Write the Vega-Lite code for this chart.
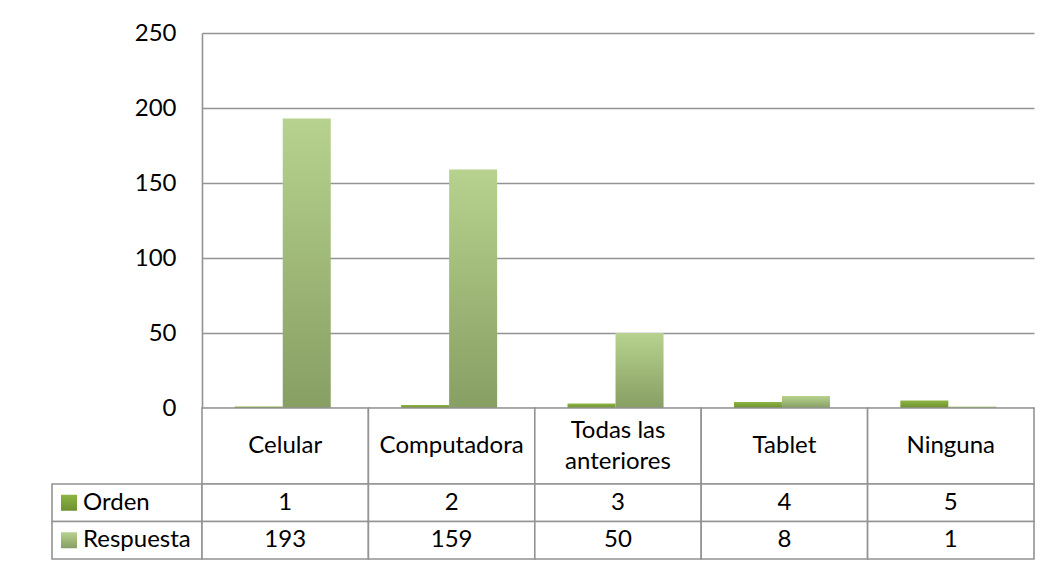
{
  "$schema": "https://vega.github.io/schema/vega-lite/v6.json",
  "padding": {"left": 51, "top": 21, "right": 0, "bottom": 0},
  "background": "white",
  "columns": 2,
  "spacing": 0,
  "bounds": "flush",
  "config": {
    "view": {"stroke": null},
    "font": "Lato",
    "text": {"font": "Lato", "fontSize": 24, "color": "#000000"}
  },
  "data": {
    "values": [
      {"categoria": "Celular", "etiqueta": "Celular", "Orden": 1, "Respuesta": 193},
      {"categoria": "Computadora", "etiqueta": "Computadora", "Orden": 2, "Respuesta": 159},
      {"categoria": "Todas las anteriores", "etiqueta": "Todas las\nanteriores", "Orden": 3, "Respuesta": 50},
      {"categoria": "Tablet", "etiqueta": "Tablet", "Orden": 4, "Respuesta": 8},
      {"categoria": "Ninguna", "etiqueta": "Ninguna", "Orden": 5, "Respuesta": 1}
    ]
  },
  "concat": [
    {
      "width": 150,
      "height": 375,
      "data": {"values": []},
      "mark": "point",
      "encoding": {}
    },
    {
      "width": 832,
      "height": 375,
      "transform": [{"fold": ["Orden", "Respuesta"], "as": ["serie", "valor"]}],
      "encoding": {
        "x": {
          "field": "categoria",
          "type": "nominal",
          "sort": null,
          "scale": {"paddingInner": 0.423, "paddingOuter": 0.2115, "align": 0.465},
          "axis": null
        },
        "xOffset": {
          "field": "serie",
          "type": "nominal",
          "scale": {"domain": ["Orden", "Respuesta"], "paddingInner": 0, "paddingOuter": 0}
        },
        "y": {
          "field": "valor",
          "type": "quantitative",
          "scale": {"domain": [0, 250], "nice": false},
          "axis": {
            "values": [0, 50, 100, 150, 200, 250],
            "grid": true,
            "gridColor": "#939393",
            "gridWidth": 1.6,
            "domainColor": "#939393",
            "domainWidth": 1.6,
            "ticks": false,
            "labelFont": "Lato",
            "labelFontSize": 24,
            "labelColor": "#000000",
            "labelPadding": 26,
            "title": null
          }
        }
      },
      "layer": [
        {
          "transform": [{"filter": "datum.serie === 'Orden'"}],
          "mark": {
            "type": "bar",
            "color": {
              "gradient": "linear", "x1": 0, "y1": 0, "x2": 0, "y2": 1,
              "stops": [{"offset": 0, "color": "#8db543"}, {"offset": 1, "color": "#6e9030"}]
            }
          }
        },
        {
          "transform": [{"filter": "datum.serie === 'Respuesta'"}],
          "mark": {
            "type": "bar",
            "color": {
              "gradient": "linear", "x1": 0, "y1": 0, "x2": 0, "y2": 1,
              "stops": [{"offset": 0, "color": "#b7d28e"}, {"offset": 1, "color": "#879f63"}]
            }
          }
        }
      ]
    },
    {
      "width": 150,
      "height": 76,
      "data": {"values": []},
      "mark": "point",
      "encoding": {}
    },
    {
      "width": 832,
      "height": 76,
      "encoding": {
        "x": {
          "field": "categoria",
          "type": "nominal",
          "sort": null,
          "scale": {"paddingInner": 0, "paddingOuter": 0},
          "axis": null
        }
      },
      "layer": [
        {"mark": {"type": "rect", "fill": "white", "stroke": "#939393", "strokeWidth": 1.6}},
        {
          "transform": [{"filter": "indexof(datum.etiqueta, '\\n') < 0"}],
          "mark": {"type": "text", "baseline": "middle", "align": "center"},
          "encoding": {"text": {"field": "etiqueta"}}
        },
        {
          "transform": [{"filter": "indexof(datum.etiqueta, '\\n') >= 0"}],
          "mark": {"type": "text", "lineBreak": "\n", "lineHeight": 31, "baseline": "middle", "align": "center", "dy": -15},
          "encoding": {"text": {"field": "etiqueta"}}
        }
      ]
    },
    {
      "width": 150,
      "height": 75,
      "data": {"values": [{"serie": "Orden"}, {"serie": "Respuesta"}]},
      "encoding": {
        "y": {
          "field": "serie",
          "type": "nominal",
          "sort": null,
          "scale": {"domain": ["Orden", "Respuesta"], "paddingInner": 0, "paddingOuter": 0},
          "axis": null
        }
      },
      "layer": [
        {"mark": {"type": "rect", "fill": "white", "stroke": "#939393", "strokeWidth": 1.6}},
        {
          "transform": [{"filter": "datum.serie === 'Orden'"}],
          "mark": {
            "type": "square", "size": 256, "opacity": 1, "filled": true,
            "fill": {
              "gradient": "linear", "x1": 0, "y1": 0, "x2": 0, "y2": 1,
              "stops": [{"offset": 0, "color": "#8db543"}, {"offset": 1, "color": "#6e9030"}]
            }
          },
          "encoding": {"x": {"value": 17}}
        },
        {
          "transform": [{"filter": "datum.serie === 'Respuesta'"}],
          "mark": {
            "type": "square", "size": 256, "opacity": 1, "filled": true,
            "fill": {
              "gradient": "linear", "x1": 0, "y1": 0, "x2": 0, "y2": 1,
              "stops": [{"offset": 0, "color": "#b7d28e"}, {"offset": 1, "color": "#879f63"}]
            }
          },
          "encoding": {"x": {"value": 17}}
        },
        {
          "mark": {"type": "text", "align": "left", "baseline": "middle"},
          "encoding": {"x": {"value": 31}, "text": {"field": "serie"}}
        }
      ]
    },
    {
      "width": 832,
      "height": 75,
      "transform": [{"fold": ["Orden", "Respuesta"], "as": ["serie", "valor"]}],
      "encoding": {
        "x": {
          "field": "categoria",
          "type": "nominal",
          "sort": null,
          "scale": {"paddingInner": 0, "paddingOuter": 0},
          "axis": null
        },
        "y": {
          "field": "serie",
          "type": "nominal",
          "sort": null,
          "scale": {"domain": ["Orden", "Respuesta"], "paddingInner": 0, "paddingOuter": 0},
          "axis": null
        }
      },
      "layer": [
        {"mark": {"type": "rect", "fill": "white", "stroke": "#939393", "strokeWidth": 1.6}},
        {
          "mark": {"type": "text", "align": "center", "baseline": "middle"},
          "encoding": {"text": {"field": "valor", "type": "quantitative"}}
        }
      ]
    }
  ]
}
